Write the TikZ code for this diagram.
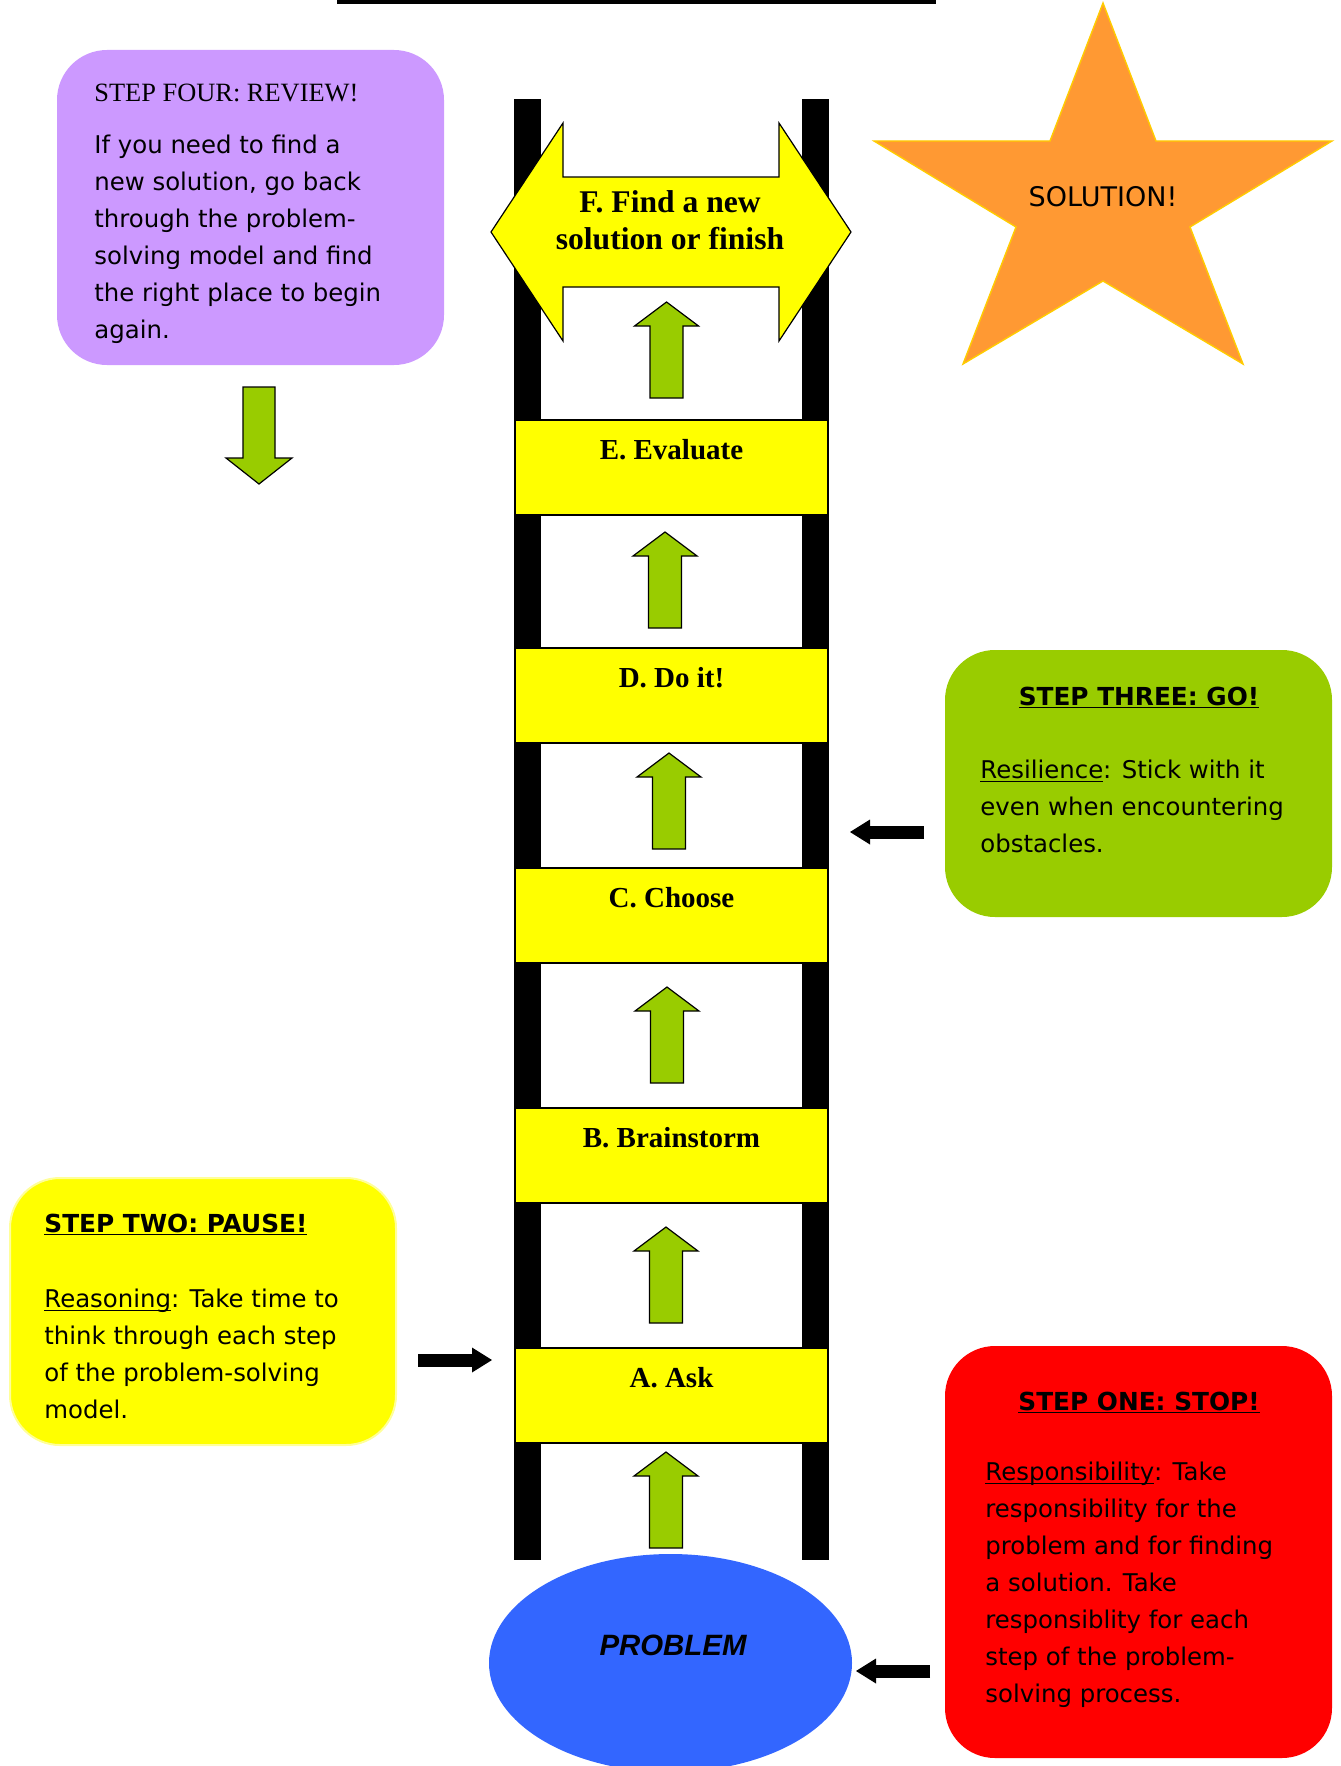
\documentclass[tikz,border=0pt]{standalone}
\usepackage{fontspec}
\setmainfont{Liberation Serif}
\setsansfont{DejaVu Sans}
\newfontfamily\arialfont{Liberation Sans}
\usetikzlibrary{arrows.meta, positioning, shapes.geometric}

\definecolor{lilac}{HTML}{CC99FF}
\definecolor{leaf}{HTML}{99CC00}
\definecolor{sun}{HTML}{FF9933}
\definecolor{gold}{HTML}{FFCC00}
\definecolor{sky}{HTML}{3366FF}
\definecolor{lemon}{RGB}{255,255,0}
\definecolor{signalred}{RGB}{255,0,0}
\definecolor{paleyellow}{HTML}{FFFF99}

\newcommand{\bodyfont}{\sffamily\fontsize{12.2pt}{18.5pt}\selectfont}
\newcommand{\ulword}[1]{\underline{\smash{#1}}}

\begin{document}
\begin{tikzpicture}[
        x=0.5pt, y=-0.5pt,
        rung/.style={draw, fill=lemon, line width=0.6pt, minimum width=156.5pt, inner sep=0pt,
            text height=19.75pt, text depth=27.75pt, font=\bfseries\fontsize{14.5pt}{17pt}\selectfont},
        stepbox/.style={rounded corners=25pt, minimum width=193.5pt, inner sep=0pt},
        steptitle/.style={anchor=base west, inner sep=0pt, font=\sffamily\bfseries\fontsize{12.4pt}{18.5pt}\selectfont},
        steptext/.style={anchor=north west, inner sep=0pt, align=left, font=\bodyfont},
        greenarrow/.style={draw=black, fill=leaf, line width=0.6pt},
        pointer/.style={line width=6.5pt, -{Triangle[length=10pt, width=12.5pt, line width=0pt]}}
        ]

        \useasboundingbox (0,0) rectangle (1340,1766);
        \fill (337,0) rectangle (936,4);

        % Ladder
        \fill (514,99) rectangle (541,1560);
        \fill (802,99) rectangle (829,1560);

        \node[rung] (E) at (671.5,467.5) {E. Evaluate};
        \node[rung] (D) at (671.5,695.5) {D. Do it!};
        \node[rung] (C) at (671.5,915.5) {C. Choose};
        \node[rung] (B) at (671.5,1155.5) {B. Brainstorm};
        \node[rung] (A) at (671.5,1395.5) {A. Ask};

        \draw[fill=lemon, line width=0.6pt] (491,232) -- (563,123) -- (563,177) -- (779,177) -- (779,123)
            -- (851,232) -- (779,341) -- (779,287) -- (563,287) -- (563,341) -- cycle;
        \node[align=center, inner sep=0pt, font=\bfseries\fontsize{15.8pt}{18.5pt}\selectfont] (F)
            at (670,220) {F. Find a new\\solution or finish};

        \foreach \x/\t in {666.5/302, 665/532, 669/753, 667/987, 666/1227, 666/1452}
            \draw[greenarrow] (\x,\t) -- ++(32,24) -- ++(-15.5,0) -- ++(0,72) -- ++(-33,0)
                -- ++(0,-72) -- ++(-15.5,0) -- cycle;

        \node[ellipse, fill=sky, minimum width=181.5pt, minimum height=109pt, inner sep=0pt] (problem) at (670.5,1663) {};
        \node[font=\arialfont\bfseries\itshape\fontsize{14.7pt}{17pt}\selectfont] (problemlabel) at (673,1645) {PROBLEM};

        % Solution star
        \draw[fill=sun, draw=gold, line width=0.7pt] (1103,3) -- (1156,141) -- (1332,141) -- (1190,227)
            -- (1243,364) -- (1103,281) -- (963,364) -- (1016,227) -- (874,141) -- (1050,141) -- cycle;
        \node[font=\sffamily\fontsize{13.5pt}{16pt}\selectfont] (solution) at (1103,197) {SOLUTION!};

        % Step four
        \node[stepbox, fill=lilac, minimum height=157.5pt] (review) at (250.5,207.5) {};
        \node[anchor=base west, inner sep=0pt, font=\fontsize{13.2pt}{16pt}\selectfont] (reviewtitle) at (94,102) {STEP FOUR: REVIEW!};
        \node[steptext] (reviewtext) at (94,127.1) {\strut If you need to find a\\new solution, go back\\through the problem-\\solving model and find\\the right place to begin\\again.};
        \draw[greenarrow] (259,484) -- ++(33,-26) -- ++(-17,0) -- ++(0,-71) -- ++(-32,0) -- ++(0,71) -- ++(-17,0) -- cycle;

        % Step three
        \node[stepbox, fill=leaf, minimum height=133.5pt] (go) at (1138.5,783.5) {};
        \node[steptitle, anchor=base] (gotitle) at (1139,705) {\ulword{STEP THREE: GO!}};
        \node[steptext] (gotext) at (980,752.1) {\strut\ulword{Resilience}: Stick with it\\even when encountering\\obstacles.};
        \coordinate (gofrom) at (924,832);
        \coordinate (goto) at (850,832);
        \draw[pointer] (gofrom) -- (goto);

        % Step two
        \node[stepbox, fill=lemon, draw=paleyellow, line width=1pt, minimum height=133.5pt, minimum width=193pt] (pause) at (203,1311.5) {};
        \node[steptitle] (pausetitle) at (44,1232) {\ulword{STEP TWO: PAUSE!}};
        \node[steptext] (pausetext) at (44,1281.1) {\strut\ulword{Reasoning}: Take time to\\think through each step\\of the problem-solving\\model.};
        \coordinate (pausefrom) at (418,1360);
        \coordinate (pauseto) at (492,1360);
        \draw[pointer] (pausefrom) -- (pauseto);

        % Step one
        \node[stepbox, fill=signalred, minimum height=206pt] (stop) at (1138.5,1552) {};
        \node[steptitle, anchor=base] (stoptitle) at (1139,1410) {\ulword{STEP ONE: STOP!}};
        \node[steptext] (stoptext) at (985,1454.1) {\strut\ulword{Responsibility}: Take\\responsibility for the\\problem and for finding\\a solution. Take\\responsiblity for each\\step of the problem-\\solving process.};
        \coordinate (stopfrom) at (930,1671);
        \coordinate (stopto) at (856,1671);
        \draw[pointer] (stopfrom) -- (stopto);

    \end{tikzpicture}
\end{document}
